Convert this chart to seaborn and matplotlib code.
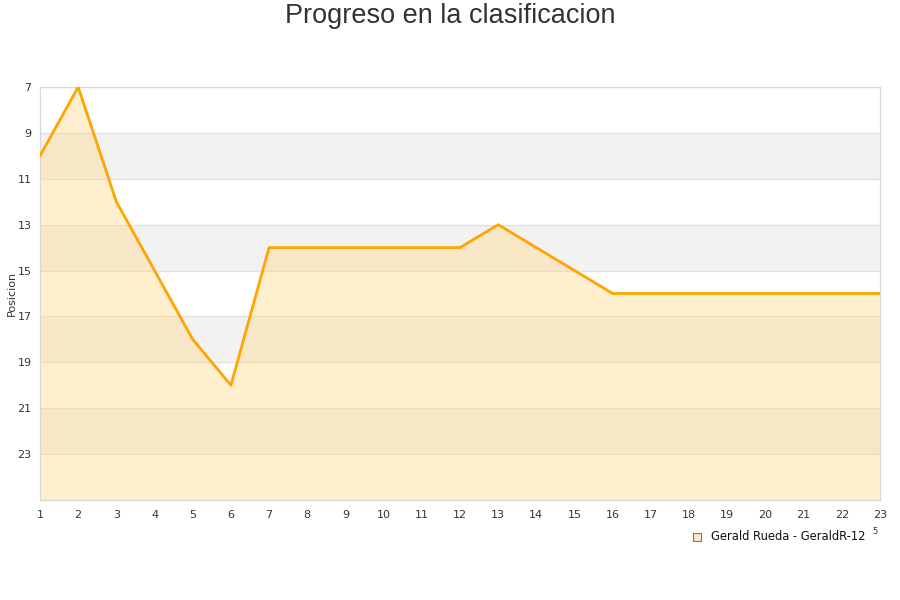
import numpy as np
import pandas as pd
import matplotlib.pyplot as plt
import seaborn as sns

# --- Data ---
jornadas = list(range(1, 24))
posiciones = [10, 7, 12, 15, 18, 20, 14, 14, 14, 14, 14, 14, 13, 14, 15, 16,
              16, 16, 16, 16, 16, 16, 16]
y_ticks = [7, 9, 11, 13, 15, 17, 19, 21, 23]
serie = 'Gerald Rueda - GeraldR-12'

df = pd.DataFrame({'Jornada': jornadas, 'Posicion': posiciones})

# --- Plot ---
sns.set_theme(style='white')
plt.rcParams['font.family'] = ['DejaVu Sans']

fig = plt.figure(figsize=(9, 6), dpi=100)
ax = fig.add_axes([40 / 900, 100 / 600, 840 / 900, 413 / 600])

# alternating bands
for lo in range(9, 25, 4):
    ax.axhspan(lo, lo + 2, color='#f2f2f2', zorder=0, lw=0)
for t in y_ticks:
    ax.axhline(t, color='#e0e0e0', lw=0.9, zorder=1)

ax.fill_between(df['Jornada'], df['Posicion'], 25, color='#ffd98c', alpha=0.42,
                lw=0, zorder=2)
sns.lineplot(data=df, x='Jornada', y='Posicion', color='#ffa500', lw=2,
             ax=ax, zorder=3, legend=False)

ax.set_xlim(1, 23)
ax.set_ylim(25, 7)
ax.set_xticks(jornadas)
ax.set_yticks(y_ticks)
ax.tick_params(axis='both', labelsize=8, colors='#333333', length=0, pad=6)
ax.tick_params(axis='x', pad=7)
ax.set_xlabel('')
ax.set_ylabel('Posicion', fontsize=8, color='#333333')
ax.yaxis.set_label_coords(-23 / 840, 0.5)
for s in ax.spines.values():
    s.set_color('#d8d8d8')
    s.set_linewidth(0.9)

fig.text(0.5, 1 - 16 / 600, 'Progreso en la clasificacion', ha='center', va='center',
         fontsize=19.5, color='#333333', family='Liberation Sans')

# legend
fig.patches.append(plt.Rectangle((693 / 900, 1 - 541 / 600), 8 / 900, 8 / 600,
                                 transform=fig.transFigure, facecolor='#fde9c4',
                                 edgecolor='#777777', lw=0.8))
fig.text(711 / 900, 1 - 537 / 600, serie, ha='left', va='center', fontsize=8.3,
         color='#111111')
fig.text(875 / 900, 1 - 531 / 600, '5', ha='center', va='center', fontsize=6,
         color='#333333')

fig.savefig('out.png', dpi=100)
